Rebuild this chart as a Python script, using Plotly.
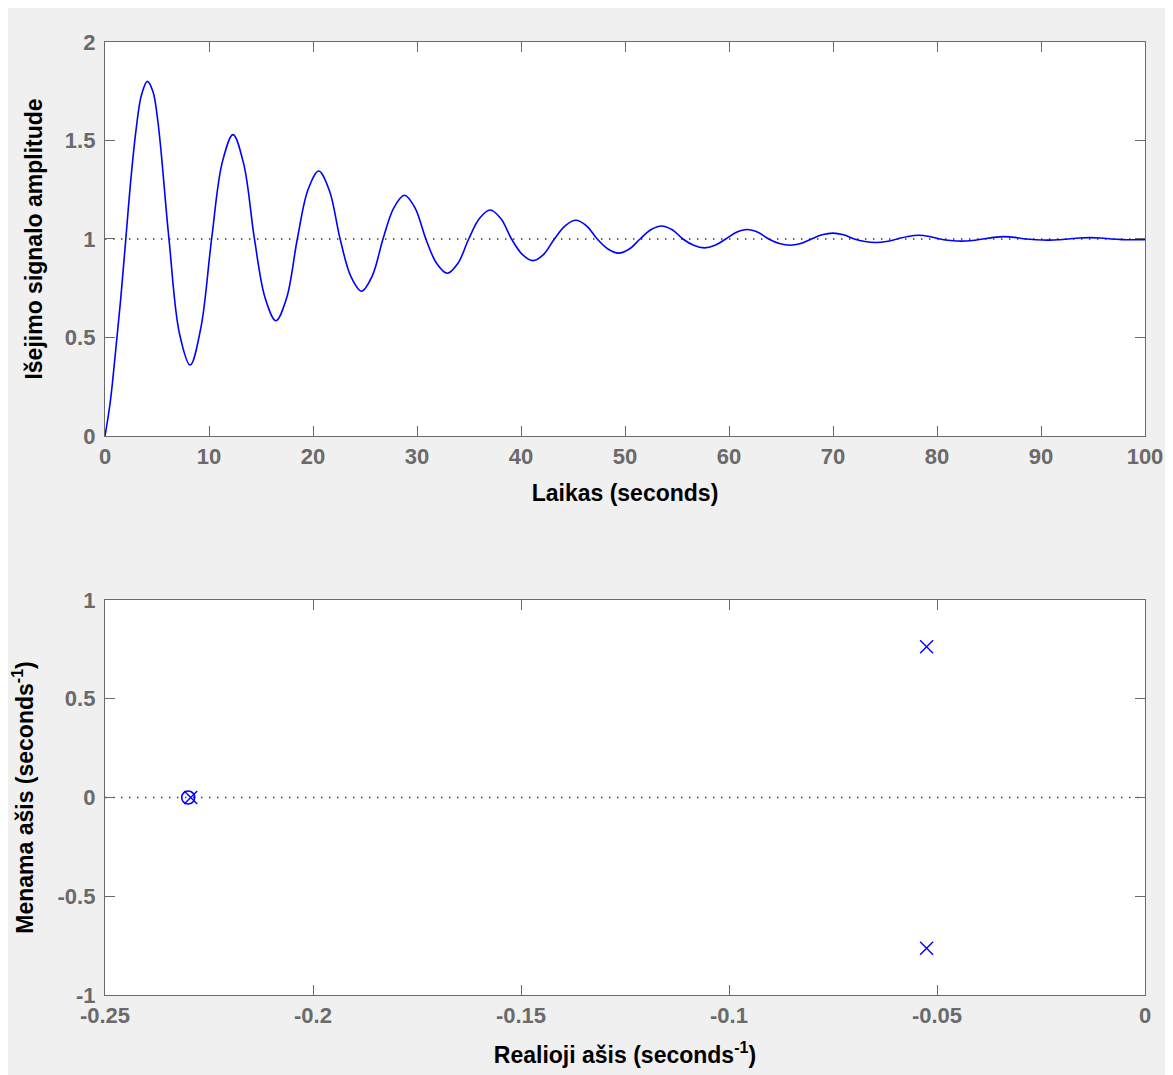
import plotly.graph_objects as go
from plotly.subplots import make_subplots

# ---- step response ----
time_s = [0, 0.5, 1.0, 1.5, 2.0, 2.5, 3.0, 3.5, 4.07,
          4.6, 5.10, 6.15, 7.16, 8.19,
          9.22, 10.25, 11.28, 12.31,
          13.34, 14.37, 15.40, 16.43,
          17.46, 18.49, 19.52, 20.55,
          21.58, 22.61, 23.64, 24.67,
          25.70, 26.73, 27.76, 28.79,
          29.82, 30.85, 31.88, 32.91,
          33.94, 34.97, 36.00, 37.03,
          38.06, 39.09, 40.12, 41.15,
          42.18, 43.21, 44.24, 45.27,
          46.30, 47.33, 48.36, 49.39,
          50.42, 51.45, 52.48, 53.51,
          54.54, 55.57, 56.60, 57.63,
          58.66, 59.69, 60.72, 61.75,
          62.78, 63.81, 64.84, 65.87,
          66.90, 67.93, 68.96, 69.99,
          71.02, 72.05, 73.08, 74.11,
          75.14, 76.17, 77.20, 78.23,
          79.26, 80.29, 81.32, 82.35,
          83.38, 84.41, 85.44, 86.47,
          87.50, 88.53, 89.56, 90.59,
          91.62, 92.65, 93.68, 94.71,
          95.74, 96.77, 97.80, 98.83, 100]
amplitude = [0, 0.17, 0.42, 0.69, 1.0, 1.31, 1.56, 1.73, 1.80,
             1.75, 1.59, 1.0, 0.52, 0.36,
             0.55, 1.0, 1.39, 1.53,
             1.38, 1.0, 0.70, 0.585,
             0.70, 1.0, 1.25, 1.345,
             1.245, 1.0, 0.81, 0.735,
             0.813, 1.0, 1.157, 1.222,
             1.157, 1.0, 0.877, 0.826,
             0.877, 1.0, 1.104, 1.147,
             1.104, 1.0, 0.922, 0.89,
             0.922, 1.0, 1.067, 1.095,
             1.067, 1.0, 0.949, 0.928,
             0.949, 1.0, 1.047, 1.066,
             1.047, 1.0, 0.968, 0.955,
             0.968, 1.0, 1.034, 1.048,
             1.034, 1.0, 0.977, 0.968,
             0.977, 1.0, 1.021, 1.03,
             1.021, 1.0, 0.987, 0.982,
             0.987, 1.0, 1.013, 1.019,
             1.013, 1.0, 0.992, 0.989,
             0.992, 1.0, 1.008, 1.012,
             1.008, 1.0, 0.996, 0.994,
             0.996, 1.0, 1.005, 1.007,
             1.005, 1.0, 0.997, 0.996, 0.997]
steady_x = [0, 100]
steady_y = [1, 1]

# ---- pole-zero map ----
pole_re = [-0.2294, -0.0525, -0.0525]
pole_im = [0.0, 0.763, -0.763]
zero_re = [-0.2300]
zero_im = [0.0]
axis0_x = [-0.25, 0]
axis0_y = [0, 0]

top_xticks = [0, 10, 20, 30, 40, 50, 60, 70, 80, 90, 100]
top_yticks = [0, 0.5, 1, 1.5, 2]
top_ylabels = ["0", "0.5", "1", "1.5", "2"]
bot_xticks = [-0.25, -0.2, -0.15, -0.1, -0.05, 0]
bot_xlabels = ["-0.25", "-0.2", "-0.15", "-0.1", "-0.05", "0"]
bot_yticks = [-1, -0.5, 0, 0.5, 1]
bot_ylabels = ["-1", "-0.5", "0", "0.5", "1"]

BLUE = "rgb(0,0,255)"
GRAY = "#6a6a6a"
FONT = "Liberation Sans, Arial, sans-serif"

fig = make_subplots(rows=2, cols=1)

fig.add_trace(go.Scatter(x=steady_x, y=steady_y, mode="lines",
                         line=dict(color="#333333", width=1.4, dash="1.4px,6.6px"),
                         showlegend=False, hoverinfo="skip"), row=1, col=1)
fig.add_trace(go.Scatter(x=time_s, y=amplitude, mode="lines",
                         line=dict(color=BLUE, width=1.6, shape="spline", smoothing=1.0),
                         showlegend=False), row=1, col=1)

fig.add_trace(go.Scatter(x=axis0_x, y=axis0_y, mode="lines",
                         line=dict(color="#333333", width=1.4, dash="1.4px,6.6px"),
                         showlegend=False, hoverinfo="skip"), row=2, col=1)
fig.add_trace(go.Scatter(x=zero_re, y=zero_im, mode="markers",
                         marker=dict(symbol="circle-open", size=13, color=BLUE,
                                     line=dict(color=BLUE, width=1.6)),
                         showlegend=False), row=2, col=1)
fig.add_trace(go.Scatter(x=pole_re, y=pole_im, mode="markers",
                         marker=dict(symbol="x-thin-open", size=13, color=BLUE,
                                     line=dict(color=BLUE, width=1.4)),
                         showlegend=False), row=2, col=1)

axis_common = dict(showline=True, linecolor=GRAY, linewidth=1.3, mirror="ticks",
                   ticks="inside", ticklen=10, tickwidth=1.3, tickcolor=GRAY,
                   showgrid=False, zeroline=False,
                   tickfont=dict(family=FONT, size=22, color=GRAY, weight="bold"))
title_font = dict(family=FONT, size=23, color="black", weight="bold")

fig.update_xaxes(**axis_common)
fig.update_yaxes(**axis_common, ticklabelstandoff=4)

fig.update_xaxes(range=[0, 100], tickvals=top_xticks, domain=[0, 1],
                 title=dict(text="Laikas (seconds)", font=title_font, standoff=17),
                 row=1, col=1)
fig.update_yaxes(range=[0, 2], tickvals=top_yticks, ticktext=top_ylabels,
                 domain=[0.5866, 1.0],
                 title=dict(text="Išejimo signalo amplitude", font=title_font, standoff=15),
                 row=1, col=1)
fig.update_xaxes(range=[-0.25, 0], tickvals=bot_xticks, ticktext=bot_xlabels,
                 domain=[0, 1],
                 title=dict(text="Realioji ašis (seconds<sup>-1</sup>)", font=title_font, standoff=20),
                 row=2, col=1)
fig.update_yaxes(range=[-1, 1], tickvals=bot_yticks, ticktext=bot_ylabels,
                 domain=[0, 0.4145],
                 title=dict(text="Menama ašis (seconds<sup>-1</sup>)", font=title_font, standoff=17),
                 row=2, col=1)

fig.update_layout(width=1173, height=1075,
                  margin=dict(l=97, r=36, t=34, b=88, autoexpand=False),
                  paper_bgcolor="#f0f0f0", plot_bgcolor="white",
                  font=dict(family=FONT))

fig.write_html("out.html")
